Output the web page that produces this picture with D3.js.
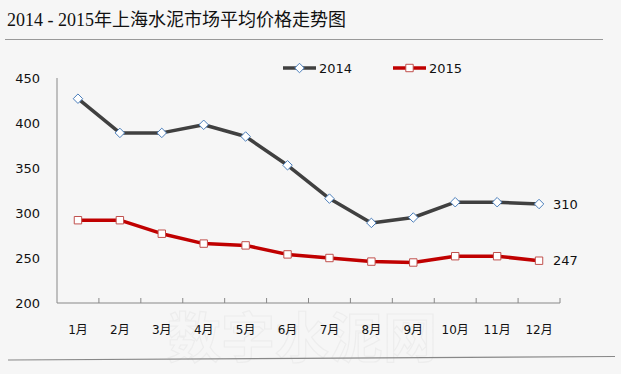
<!DOCTYPE html>
<meta charset="utf-8">
<script src="https://d3js.org/d3.v7.min.js"></script>
<style>
  body { margin: 0; background: #f6f6f6; }
  svg { display: block; }
</style>
<div id="chart"></div>
<script>

// data
var months = ["1月", "2月", "3月", "4月", "5月", "6月", "7月", "8月", "9月", "10月", "11月", "12月"];
var y2014 = [427, 389, 389, 398, 385, 353, 316, 289, 295, 312, 312, 310];
var y2015 = [292, 292, 277, 266, 264, 254, 250, 246, 245, 252, 252, 247];
var yTicks = [200, 250, 300, 350, 400, 450];

var W = 621, H = 374;
var svg = d3.select("#chart").append("svg")
  .attr("width", W).attr("height", H);

svg.append("rect").attr("width", W).attr("height", H).attr("fill", "#f6f6f6");

// faint watermark
svg.append("text")
  .attr("x", 302).attr("y", 358)
  .attr("text-anchor", "middle")
  .style("font-family", "Noto Sans CJK SC")
  .style("font-size", "54px")
  .style("font-weight", "bold")
  .attr("fill", "none")
  .attr("stroke", "#ededed")
  .attr("stroke-width", 1.2)
  .text("数字水泥网");

// title and rules
svg.append("text")
  .attr("x", 7).attr("y", 26)
  .style("font-family", "'Liberation Serif', 'Noto Sans CJK SC'")
  .style("font-size", "18px")
  .attr("fill", "#111")
  .text("2014 - 2015年上海水泥市场平均价格走势图");

svg.append("line").attr("x1", 5).attr("x2", 603).attr("y1", 39.5).attr("y2", 39.5)
  .attr("stroke", "#999").attr("stroke-width", 1.2);
svg.append("line").attr("x1", 8).attr("x2", 615).attr("y1", 360).attr("y2", 356.5)
  .attr("stroke", "#888").attr("stroke-width", 1.2);

var x = d3.scaleBand().domain(months).range([57, 560]);
var y = d3.scaleLinear().domain([200, 450]).range([303, 78]);

var g = svg.append("g");

// y axis (no ticks)
g.append("line").attr("x1", 57).attr("x2", 57).attr("y1", y(450)).attr("y2", y(200))
  .attr("stroke", "#888");
g.selectAll(".ylab").data(yTicks).enter().append("text")
  .attr("x", 40).attr("y", function(d) { return y(d); })
  .attr("dy", "0.35em")
  .attr("text-anchor", "end")
  .style("font-family", "DejaVu Sans")
  .style("font-size", "13px")
  .attr("fill", "#111")
  .text(function(d) { return d; });

// x axis with inner ticks at the band edges
g.append("line").attr("x1", 57).attr("x2", 560).attr("y1", y(200)).attr("y2", y(200))
  .attr("stroke", "#888");
var edges = months.map(function(m) { return x(m) + x.bandwidth(); });
g.selectAll(".xtick").data(edges).enter().append("line")
  .attr("x1", function(d) { return d; }).attr("x2", function(d) { return d; })
  .attr("y1", y(200)).attr("y2", y(200) - 5)
  .attr("stroke", "#888");
g.selectAll(".xlab").data(months).enter().append("text")
  .attr("x", function(d) { return x(d) + x.bandwidth() / 2; })
  .attr("y", 330)
  .attr("dy", "0.35em")
  .attr("text-anchor", "middle")
  .style("font-family", "'DejaVu Sans', 'Noto Sans CJK SC'")
  .style("font-size", "12px")
  .attr("fill", "#111")
  .text(function(d) { return d; });

var line = d3.line()
  .x(function(d, i) { return x(months[i]) + x.bandwidth() / 2; })
  .y(function(d) { return y(d); });

// square diamond (rotated square) like the excel marker
var rhomb = {
  draw: function(ctx, size) {
    var r = Math.sqrt(size) / 2;
    ctx.moveTo(0, -r); ctx.lineTo(r, 0); ctx.lineTo(0, r); ctx.lineTo(-r, 0); ctx.closePath();
  }
};

function series(vals, color, markerStroke, shape, sz) {
  g.append("path").datum(vals)
    .attr("d", line)
    .attr("fill", "none")
    .attr("stroke", color)
    .attr("stroke-width", 3.5)
    .attr("stroke-linejoin", "round");
  g.selectAll(null).data(vals).enter().append("path")
    .attr("transform", function(d, i) {
      return "translate(" + (x(months[i]) + x.bandwidth() / 2) + "," + y(d) + ")";
    })
    .attr("d", d3.symbol().type(shape).size(sz))
    .attr("fill", "#fff")
    .attr("stroke", markerStroke)
    .attr("stroke-width", 1);
}

series(y2014, "#404040", "#4a7ebb", rhomb, 90);
series(y2015, "#c00000", "#c0504d", d3.symbolSquare, 55);

// end labels
var lastX = x(months[11]) + x.bandwidth() / 2;
[[y2014[11]], [y2015[11]]].forEach(function(v) {
  g.append("text")
    .attr("x", lastX + 14).attr("y", y(v[0]))
    .attr("dy", "0.35em")
    .style("font-family", "DejaVu Sans")
    .style("font-size", "13px")
    .attr("fill", "#111")
    .text(v[0]);
});

// legend
var legend = [
  {name: "2014", color: "#404040", mk: "#4a7ebb", shape: rhomb, sz: 90, x: 283},
  {name: "2015", color: "#c00000", mk: "#c0504d", shape: d3.symbolSquare, sz: 55, x: 393}
];
legend.forEach(function(l) {
  svg.append("line").attr("x1", l.x).attr("x2", l.x + 33).attr("y1", 68).attr("y2", 68)
    .attr("stroke", l.color).attr("stroke-width", 3.5);
  svg.append("path")
    .attr("transform", "translate(" + (l.x + 16.5) + ",68)")
    .attr("d", d3.symbol().type(l.shape).size(l.sz))
    .attr("fill", "#fff").attr("stroke", l.mk);
  svg.append("text")
    .attr("x", l.x + 36).attr("y", 68).attr("dy", "0.35em")
    .style("font-family", "DejaVu Sans")
    .style("font-size", "13px")
    .attr("fill", "#111")
    .text(l.name);
});

</script>
